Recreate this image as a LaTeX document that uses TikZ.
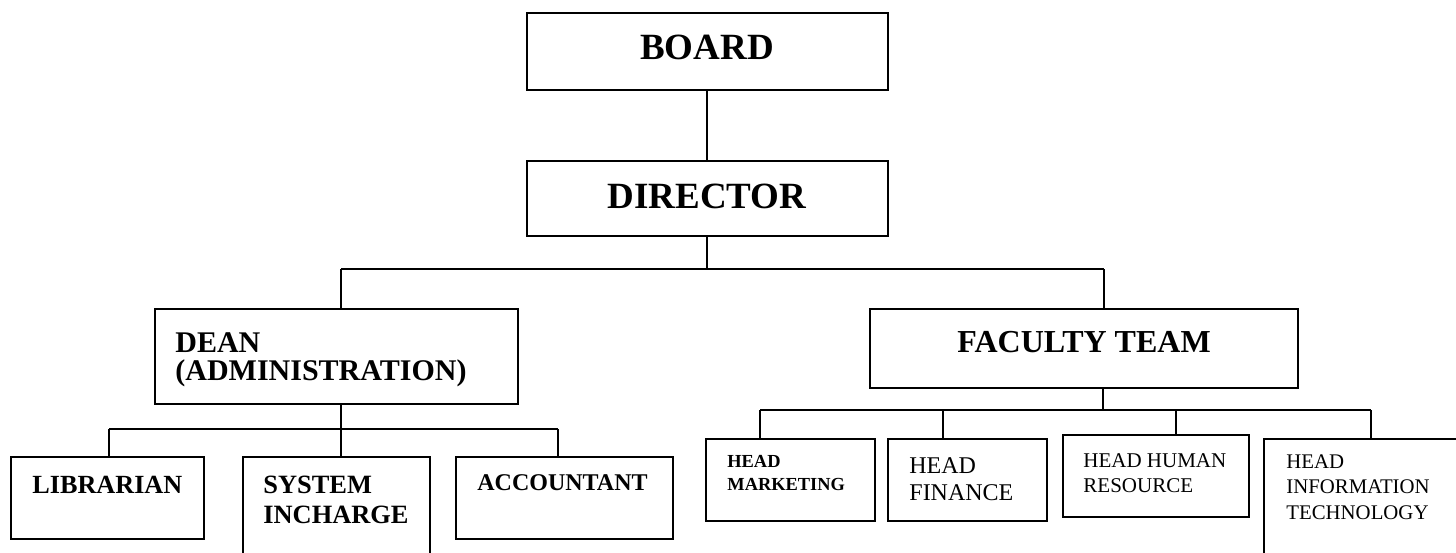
\documentclass[tikz,border=0pt]{standalone}
\usepackage{fontspec}
\setmainfont{Liberation Serif}
\newcommand{\fsz}[2]{\fontsize{#1}{#2}\selectfont}
\begin{document}
\begin{tikzpicture}[x=0.5pt,y=-0.5pt,
  box/.style={draw, line width=1pt, rectangle, inner sep=0pt},
  conn/.style={line width=1pt},
  txt/.style={anchor=base west, inner sep=0pt, align=left},
  ctxt/.style={anchor=base, inner sep=0pt}]
\clip (0,0) rectangle (1456,552);
\fill[white] (0,0) rectangle (1456,552);
% boxes
\node[box, minimum width=180.5pt, minimum height=38.5pt] (board) at (707,51.5) {};
\node[box, minimum width=180.5pt, minimum height=37.5pt] (director) at (707,198.5) {};
\node[box, minimum width=181.5pt, minimum height=47.5pt] (dean) at (336.5,356.5) {};
\node[box, minimum width=214pt, minimum height=39.5pt] (fac) at (1084,348.5) {};
\node[box, minimum width=96.5pt, minimum height=41pt] (lib) at (107.5,498) {};
\node[box, minimum width=93.5pt, minimum height=59pt] (sys) at (336.5,516) {};
\node[box, minimum width=108.5pt, minimum height=41pt] (acc) at (564.5,498) {};
\node[box, minimum width=84.5pt, minimum height=41pt] (hm) at (790.5,480) {};
\node[box, minimum width=79.5pt, minimum height=41pt] (hf) at (967.5,480) {};
\node[box, minimum width=93pt, minimum height=41pt] (hhr) at (1156,476) {};
\node[box, minimum width=108pt, minimum height=75.5pt] (hit) at (1372,514.5) {};
% texts
\node[ctxt, font=\bfseries\fsz{18.5}{20}] (boardT) at (707,59) {BOARD};
\node[ctxt, font=\bfseries\fsz{18.5}{20}] (directorT) at (707,208) {DIRECTOR};
\node[txt, font=\bfseries\fsz{15}{12.5}] (deanT) at (175,352) {\begin{tabular}[t]{@{}l@{}}DEAN\\(ADMINISTRATION)\end{tabular}};
\node[txt, font=\bfseries\fsz{16}{18}] (facT) at (957,352) {FACULTY TEAM};
\node[txt, font=\bfseries\fsz{13.1}{15}] (libT) at (32,493) {LIBRARIAN};
\node[txt, font=\bfseries\fsz{13.2}{15}] (sysT) at (263,493) {\begin{tabular}[t]{@{}l@{}}SYSTEM\\INCHARGE\end{tabular}};
\node[txt, font=\bfseries\fsz{12}{14}] (accT) at (477,490) {ACCOUNTANT};
\node[txt, font=\bfseries\fsz{9.2}{11.5}] (hmT) at (727,467) {\begin{tabular}[t]{@{}l@{}}HEAD\\MARKETING\end{tabular}};
\node[txt, font=\fsz{12}{13.5}] (hfT) at (909,473) {\begin{tabular}[t]{@{}l@{}}HEAD\\FINANCE\end{tabular}};
\node[txt, font=\fsz{10.5}{12.5}] (hhrT) at (1083,467) {\begin{tabular}[t]{@{}l@{}}HEAD HUMAN\\RESOURCE\end{tabular}};
\node[txt, font=\fsz{10.4}{12.75}] (hitT) at (1286,468) {\begin{tabular}[t]{@{}l@{}}HEAD\\INFORMATION\\TECHNOLOGY\end{tabular}};
% connectors
\coordinate (tbL) at (341,269);
\coordinate (tbR) at (1104,269);
\coordinate (dbL) at (109,429);
\coordinate (dbC) at (341,429);
\coordinate (dbR) at (558,429);
\coordinate (fbL) at (760,410);
\coordinate (fb2) at (943,410);
\coordinate (fbC) at (1103,410);
\coordinate (fb3) at (1176,410);
\coordinate (fbR) at (1371,410);
\draw[conn] (board.south) -- (director.north);
\draw[conn] (director.south) -- (director.south |- tbL);
\draw[conn] (tbL) -- (tbR);
\draw[conn] (tbL) -- (tbL |- dean.north);
\draw[conn] (tbR) -- (tbR |- fac.north);
\draw[conn] (dbC |- dean.south) -- (dbC);
\draw[conn] (dbL) -- (dbR);
\draw[conn] (dbL) -- (dbL |- lib.north);
\draw[conn] (dbC) -- (dbC |- sys.north);
\draw[conn] (dbR) -- (dbR |- acc.north);
\draw[conn] (fbC |- fac.south) -- (fbC);
\draw[conn] (fbL) -- (fbR);
\draw[conn] (fbL) -- (fbL |- hm.north);
\draw[conn] (fb2) -- (fb2 |- hf.north);
\draw[conn] (fb3) -- (fb3 |- hhr.north);
\draw[conn] (fbR) -- (fbR |- hit.north);
\end{tikzpicture}
\end{document}
